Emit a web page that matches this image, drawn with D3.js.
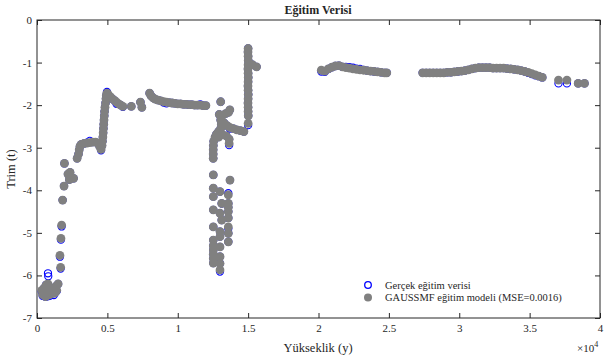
<!DOCTYPE html>
<html>
<head>
<meta charset="utf-8">
<script src="https://cdn.jsdelivr.net/npm/d3@7"></script>
<style>
body { margin:0; background:#fff; }
svg text { font-family:"Liberation Serif","Times New Roman",serif; fill:#262626; }
</style>
</head>
<body>
<div id="vis"></div>
<script>
// yukseklik (y) values, shared by both series
var yukseklik = [
 340,400,450,500,550,600,650,700,750,780,800,850,900,1000,1100,1200,1300,1350,1400,1500,
 1680,1630,1700,1750,1820,1920,1950,2200,2350,2450,2600,2300,
 2850,2950,3000,3050,3150,3350,3550,3750,3950,4150,4350,4450,4550,
 4620,4650,4680,4700,4720,4740,4760,4780,4800,4830,4870,4900,4930,4970,
 5050,5200,5350,5500,5650,5800,5950,6100,6700,7350,7450,
 8000,8100,8250,8400,8600,8800,9000,9200,9400,9600,9800,10000,10200,10400,10600,10800,11000,11200,11400,11600,11800,12000,
 13050,13700,12950,13150,13400,13600,13050,13100,13050,13300,13500,13700,13950,14200,14450,14700,
 12900,12750,12650,12900,13200,13450,13650,13650,12550,12530,12520,12520,12520,
 12527,13712,12527,13002,12527,13592,13592,13122,12527,13002,13592,13122,12527,13592,13002,13592,13002,12527,13592,
 12527,12527,12527,12527,12527,13002,13002,13002,13002,13592,13592,
 15000,14990,15000,15010,15000,15300,15600,14990,15000,15010,15000,14990,15000,15010,15000,14990,15000,15000,15010,15000,
 20200,20450,20700,20950,21200,21450,21700,21950,22200,22450,22700,22950,23200,23450,23700,23950,24200,24450,24700,24850,
 27400,27650,27900,28150,28400,28650,28900,29150,29400,29650,29900,30150,30400,30650,30900,31150,31400,31650,31900,32150,
 32400,32650,32900,33150,33400,33650,33900,34150,34400,34650,34900,35150,35400,35650,35900,
 37050,37650,38450,38900
]

// Gercek egitim verisi (trim)
var gercek = [
 -6.38,-6.48,-6.40,-6.30,-6.45,-6.50,-6.22,-6.40,-6.49,-5.95,-6.02,-6.30,-6.48,-6.42,-6.35,-6.46,-6.40,-6.25,-6.37,-6.20,
 -5.84,-5.56,-5.16,-4.85,-4.23,-3.90,-3.37,-3.62,-3.58,-3.70,-3.72,-3.75,
 -3.25,-3.15,-3.05,-2.97,-2.92,-2.90,-2.88,-2.84,-2.87,-2.87,-2.89,-2.97,-3.06,
 -2.95,-2.85,-2.75,-2.65,-2.55,-2.45,-2.35,-2.25,-2.15,-2.05,-1.95,-1.85,-1.77,-1.69,
 -1.76,-1.82,-1.85,-1.89,-1.97,-1.97,-2.00,-2.04,-2.03,-1.93,-2.05,
 -1.72,-1.78,-1.83,-1.86,-1.88,-1.90,-1.94,-1.96,-1.94,-1.95,-1.96,-1.97,-1.97,-1.98,-1.98,-1.99,-1.99,-2.00,-2.00,-1.98,-2.01,-2.01,
 -1.92,-2.11,-2.22,-2.25,-2.20,-2.17,-2.35,-2.45,-2.55,-2.42,-2.48,-2.55,-2.55,-2.58,-2.60,-2.62,
 -2.62,-2.68,-2.75,-2.75,-2.70,-2.72,-2.80,-2.94,-2.85,-2.95,-3.05,-3.15,-3.25,
 -3.64,-3.76,-3.95,-4.03,-4.15,-4.07,-4.31,-4.31,-4.46,-4.54,-4.50,-4.70,-4.86,-4.90,-4.97,-5.01,-5.09,-5.17,-5.21,
 -5.30,-5.40,-5.50,-5.60,-5.71,-5.33,-5.56,-5.72,-5.91,-4.40,-4.65,
 -0.67,-0.75,-0.85,-0.95,-1.05,-1.05,-1.10,-1.15,-1.25,-1.35,-1.45,-1.55,-1.65,-1.75,-1.85,-1.95,-2.05,-2.15,-2.25,-2.47,
 -1.21,-1.22,-1.15,-1.11,-1.08,-1.07,-1.10,-1.10,-1.11,-1.12,-1.14,-1.15,-1.17,-1.19,-1.20,-1.21,-1.22,-1.23,-1.24,-1.24,
 -1.24,-1.24,-1.24,-1.24,-1.24,-1.24,-1.24,-1.23,-1.23,-1.22,-1.21,-1.20,-1.19,-1.17,-1.15,-1.13,-1.12,-1.12,-1.12,-1.12,
 -1.13,-1.13,-1.13,-1.13,-1.14,-1.15,-1.16,-1.17,-1.19,-1.21,-1.24,-1.27,-1.30,-1.32,-1.35,
 -1.49,-1.49,-1.49,-1.49
]

// GAUSSMF egitim modeli
var model = [
 -6.35,-6.45,-6.40,-6.30,-6.42,-6.50,-6.22,-6.38,-6.47,-6.20,-6.25,-6.30,-6.45,-6.40,-6.35,-6.42,-6.40,-6.25,-6.35,-6.20,
 -5.81,-5.53,-5.13,-4.82,-4.23,-3.90,-3.37,-3.62,-3.58,-3.70,-3.72,-3.75,
 -3.25,-3.15,-3.05,-2.97,-2.92,-2.90,-2.89,-2.88,-2.87,-2.87,-2.89,-2.97,-3.04,
 -2.95,-2.85,-2.75,-2.65,-2.55,-2.45,-2.35,-2.25,-2.15,-2.05,-1.95,-1.85,-1.77,-1.72,
 -1.74,-1.80,-1.85,-1.89,-1.93,-1.97,-2.00,-2.03,-2.03,-1.93,-2.05,
 -1.72,-1.78,-1.83,-1.86,-1.88,-1.90,-1.92,-1.93,-1.94,-1.95,-1.96,-1.97,-1.97,-1.98,-1.98,-1.99,-1.99,-2.00,-2.00,-2.00,-2.01,-2.01,
 -1.92,-2.11,-2.22,-2.25,-2.20,-2.17,-2.35,-2.45,-2.55,-2.42,-2.48,-2.52,-2.55,-2.58,-2.60,-2.62,
 -2.62,-2.68,-2.75,-2.75,-2.70,-2.72,-2.80,-2.90,-2.85,-2.95,-3.05,-3.15,-3.25,
 -3.64,-3.76,-3.95,-4.03,-4.15,-4.11,-4.31,-4.31,-4.46,-4.54,-4.50,-4.70,-4.86,-4.86,-4.97,-5.01,-5.09,-5.17,-5.21,
 -5.30,-5.40,-5.50,-5.60,-5.71,-5.33,-5.56,-5.72,-5.87,-4.40,-4.65,
 -0.67,-0.75,-0.85,-0.95,-1.05,-1.05,-1.10,-1.15,-1.25,-1.35,-1.45,-1.55,-1.65,-1.75,-1.85,-1.95,-2.05,-2.15,-2.25,-2.43,
 -1.18,-1.20,-1.15,-1.11,-1.08,-1.07,-1.10,-1.12,-1.13,-1.15,-1.16,-1.17,-1.18,-1.19,-1.20,-1.21,-1.22,-1.23,-1.24,-1.24,
 -1.24,-1.24,-1.24,-1.24,-1.24,-1.24,-1.24,-1.23,-1.23,-1.22,-1.21,-1.20,-1.19,-1.17,-1.15,-1.13,-1.12,-1.12,-1.12,-1.12,
 -1.13,-1.13,-1.13,-1.13,-1.14,-1.15,-1.16,-1.17,-1.19,-1.21,-1.23,-1.26,-1.29,-1.32,-1.35,
 -1.41,-1.41,-1.49,-1.49
]

var xTicks = [0,5000,10000,15000,20000,25000,30000,35000,40000]
var xTickLabels = ["0","0.5","1","1.5","2","2.5","3","3.5","4"]
var yTicks = [-7,-6,-5,-4,-3,-2,-1,0]
var yTickLabels = ["-7","-6","-5","-4","-3","-2","-1","0"]
var legendLabels = ["Gerçek eğitim verisi","GAUSSMF eğitim modeli (MSE=0.0016)"]

var width = 605, height = 363
var svg = d3.select("#vis").append("svg").attr("width",width).attr("height",height)

var x = d3.scaleLinear().domain([0,40000]).range([37,600])
var y = d3.scaleLinear().domain([-7,0]).range([318,20])

var points = yukseklik.map(function(d,i){ return {x:d, t:gercek[i], m:model[i]} })

//axes, ticks inside on all four sides
function styleAxis(g){
    g.select(".domain").remove()
    g.selectAll(".tick line").attr("stroke","#262626")
    g.selectAll(".tick text").style("font-size","11px")
}
svg.append("g").attr("transform","translate(0,318)")
    .call(d3.axisBottom(x).tickValues(xTicks).tickSizeInner(-5).tickSizeOuter(0).tickPadding(6)
        .tickFormat(function(d,i){ return xTickLabels[i] }))
    .call(styleAxis)
svg.append("g").attr("transform","translate(0,20)")
    .call(d3.axisTop(x).tickValues(xTicks).tickSizeInner(-5).tickSizeOuter(0).tickFormat(""))
    .call(styleAxis)
svg.append("g").attr("transform","translate(37,0)")
    .call(d3.axisLeft(y).tickValues(yTicks).tickSizeInner(-5).tickSizeOuter(0).tickPadding(5)
        .tickFormat(function(d,i){ return yTickLabels[i] }))
    .call(styleAxis)
svg.append("g").attr("transform","translate(600,0)")
    .call(d3.axisRight(y).tickValues(yTicks).tickSizeInner(-5).tickSizeOuter(0).tickFormat(""))
    .call(styleAxis)
svg.append("rect").attr("x",37).attr("y",20).attr("width",563).attr("height",298)
    .attr("fill","none").attr("stroke","#262626").attr("stroke-width",1)

//true data (blue open circles)
svg.append("g").selectAll("circle").data(points)
    .enter().append("circle")
    .attr("cx",function(d){ return x(d.x) })
    .attr("cy",function(d){ return y(d.t) })
    .attr("r",3.6)
    .attr("fill","none").attr("stroke","#0000ff").attr("stroke-width",1.1)

//model (gray filled)
svg.append("g").selectAll("circle").data(points)
    .enter().append("circle")
    .attr("cx",function(d){ return x(d.x) })
    .attr("cy",function(d){ return y(d.m) })
    .attr("r",4.4)
    .attr("fill","#808080")

//title and labels
svg.append("text").attr("x",318).attr("y",14).attr("text-anchor","middle")
    .style("font-size","12px").style("font-weight","bold").text("Eğitim Verisi")
svg.append("text").attr("x",318).attr("y",352).attr("text-anchor","middle")
    .style("font-size","12.5px").text("Yükseklik (y)")
svg.append("text").attr("transform","translate(15,169) rotate(-90)").attr("text-anchor","middle")
    .style("font-size","12.5px").text("Trim (t)")
var expo = svg.append("text").attr("x",577).attr("y",352).style("font-size","11px")
expo.append("tspan").text("×10")
expo.append("tspan").attr("dy",-5).style("font-size","8px").text("4")

//legend
var leg = svg.append("g")
leg.append("circle").attr("cx",368).attr("cy",285).attr("r",3.3)
    .attr("fill","none").attr("stroke","#0000ff").attr("stroke-width",1.3)
leg.append("circle").attr("cx",368).attr("cy",297.5).attr("r",4)
    .attr("fill","#808080")
leg.selectAll("text").data(legendLabels).enter().append("text")
    .attr("x",385).attr("y",function(d,i){ return 288.5 + i*12.5 })
    .style("font-size","10.5px").text(function(d){ return d })
</script>
</body>
</html>
